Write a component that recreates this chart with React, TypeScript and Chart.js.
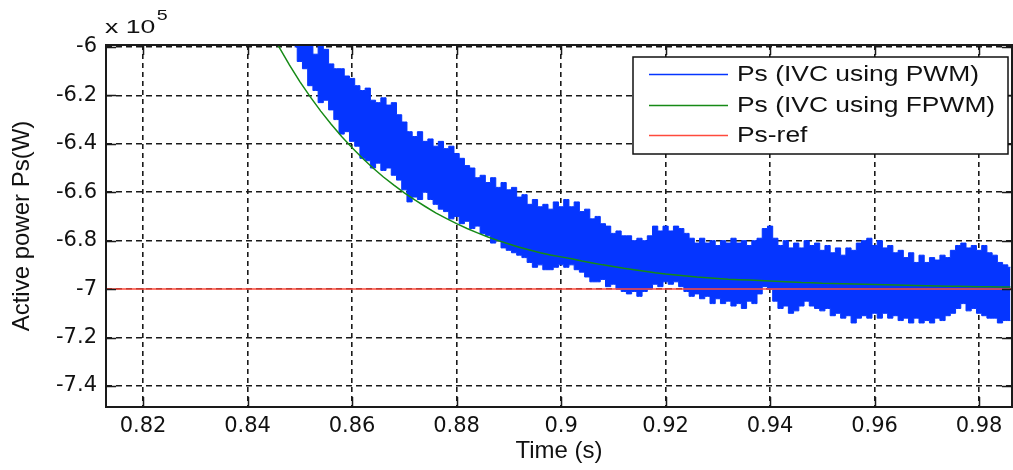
import React, { useEffect, useRef } from 'react';
import { Chart, registerables } from 'chart.js';

Chart.register(...registerables);

// ---- axes ----
const xRange = [0.8129, 0.9863];
const yRange = [-7.487, -5.992];
const xTicks = [0.82, 0.84, 0.86, 0.88, 0.9, 0.92, 0.94, 0.96, 0.98];
const yTicks = [-7.4, -7.2, -7.0, -6.8, -6.6, -6.4, -6.2, -6.0];
const xTitle = 'Time (s)';
const yTitle = 'Active power Ps(W)';
const exponentBase = 'x 10';
const exponentPower = '5';

// ---- series (values in units of 1e5 W) ----
const seriesLabels = ['Ps (IVC using PWM)', 'Ps (IVC using FPWM)', 'Ps-ref'];
const seriesColors = ['#0535ff', '#168a16', '#ff4a3c'];

const refTime = [0.8129, 0.9863];
const refValues = [-7, -7];

const fpwmTime = [
  0.844, 0.846, 0.848, 0.85, 0.852, 0.854, 0.856, 0.858, 0.86, 0.862,
  0.864, 0.866, 0.868, 0.87, 0.872, 0.874, 0.876, 0.878, 0.88, 0.882,
  0.884, 0.886, 0.888, 0.89, 0.892, 0.894, 0.896, 0.898, 0.9, 0.902,
  0.904, 0.906, 0.908, 0.91, 0.912, 0.914, 0.916, 0.918, 0.92, 0.922,
  0.924, 0.926, 0.928, 0.93, 0.932, 0.934, 0.936, 0.938, 0.94, 0.942,
  0.944, 0.946, 0.948, 0.95, 0.952, 0.954, 0.956, 0.958, 0.96, 0.962,
  0.964, 0.966, 0.968, 0.97, 0.972, 0.974, 0.976, 0.978, 0.98, 0.982,
  0.984, 0.986,
];
const fpwmValues = [
  -5.93, -6.0, -6.074, -6.143, -6.206, -6.265, -6.319, -6.37, -6.416, -6.46,
  -6.5, -6.537, -6.571, -6.603, -6.632, -6.659, -6.685, -6.708, -6.73, -6.75,
  -6.768, -6.785, -6.8, -6.814, -6.827, -6.839, -6.85, -6.859, -6.867, -6.875,
  -6.884, -6.892, -6.9, -6.907, -6.914, -6.92, -6.926, -6.933, -6.938, -6.942,
  -6.946, -6.95, -6.953, -6.956, -6.959, -6.961, -6.963, -6.965, -6.967, -6.969,
  -6.971, -6.973, -6.974, -6.976, -6.977, -6.978, -6.979, -6.98, -6.981, -6.982,
  -6.983, -6.984, -6.985, -6.986, -6.987, -6.988, -6.988, -6.989, -6.99, -6.99,
  -6.991, -6.991,
];

const pwmTime = [
  0.849, 0.85, 0.851, 0.852, 0.853, 0.854, 0.855, 0.856, 0.857, 0.858,
  0.859, 0.86, 0.861, 0.862, 0.863, 0.864, 0.865, 0.866, 0.867, 0.868,
  0.869, 0.87, 0.871, 0.872, 0.873, 0.874, 0.875, 0.876, 0.877, 0.878,
  0.879, 0.88, 0.881, 0.882, 0.883, 0.884, 0.885, 0.886, 0.887, 0.888,
  0.889, 0.89, 0.891, 0.892, 0.893, 0.894, 0.895, 0.896, 0.897, 0.898,
  0.899, 0.9, 0.901, 0.902, 0.903, 0.904, 0.905, 0.906, 0.907, 0.908,
  0.909, 0.91, 0.911, 0.912, 0.913, 0.914, 0.915, 0.916, 0.917, 0.918,
  0.919, 0.92, 0.921, 0.922, 0.923, 0.924, 0.925, 0.926, 0.927, 0.928,
  0.929, 0.93, 0.931, 0.932, 0.933, 0.934, 0.935, 0.936, 0.937, 0.938,
  0.939, 0.94, 0.941, 0.942, 0.943, 0.944, 0.945, 0.946, 0.947, 0.948,
  0.949, 0.95, 0.951, 0.952, 0.953, 0.954, 0.955, 0.956, 0.957, 0.958,
  0.959, 0.96, 0.961, 0.962, 0.963, 0.964, 0.965, 0.966, 0.967, 0.968,
  0.969, 0.97, 0.971, 0.972, 0.973, 0.974, 0.975, 0.976, 0.977, 0.978,
  0.979, 0.98, 0.981, 0.982, 0.983, 0.984, 0.985, 0.986,
];
const pwmUpper = [
  -5.98, -5.96, -5.97, -5.99, -6.03, -5.99, -6.01, -6.07, -6.09, -6.09,
  -6.12, -6.13, -6.16, -6.18, -6.17, -6.22, -6.23, -6.21, -6.24, -6.23,
  -6.28, -6.31, -6.35, -6.37, -6.35, -6.39, -6.38, -6.41, -6.39, -6.42,
  -6.41, -6.44, -6.46, -6.49, -6.5, -6.54, -6.53, -6.56, -6.54, -6.58,
  -6.56, -6.59, -6.58, -6.62, -6.61, -6.65, -6.63, -6.66, -6.65, -6.67,
  -6.64, -6.66, -6.63, -6.66, -6.64, -6.68, -6.67, -6.71, -6.7, -6.73,
  -6.74, -6.77, -6.76, -6.78, -6.78, -6.8, -6.79, -6.8, -6.78, -6.74,
  -6.76, -6.74, -6.76, -6.74, -6.75, -6.77, -6.79, -6.81, -6.79, -6.81,
  -6.8, -6.82, -6.8, -6.81, -6.79, -6.81, -6.8, -6.82, -6.8, -6.79,
  -6.75, -6.74, -6.79, -6.82, -6.8, -6.83, -6.81, -6.83, -6.8, -6.82,
  -6.81, -6.84, -6.82, -6.85, -6.83, -6.86, -6.83, -6.84, -6.81, -6.8,
  -6.79, -6.82, -6.8, -6.83, -6.82, -6.85, -6.84, -6.87, -6.85, -6.89,
  -6.86, -6.89, -6.87, -6.88, -6.86, -6.87, -6.84, -6.82, -6.81, -6.83,
  -6.82, -6.84, -6.82, -6.85, -6.86, -6.89, -6.9, -6.91,
];
const pwmLower = [
  -6.0, -6.06, -6.09, -6.16, -6.18, -6.23, -6.22, -6.26, -6.3, -6.36,
  -6.35, -6.39, -6.41, -6.46, -6.47, -6.5, -6.48, -6.51, -6.5, -6.53,
  -6.55, -6.59, -6.64, -6.62, -6.63, -6.6, -6.63, -6.65, -6.67, -6.68,
  -6.71, -6.7, -6.73, -6.72, -6.75, -6.74, -6.77, -6.78, -6.81, -6.8,
  -6.83, -6.84, -6.85, -6.86, -6.87, -6.89, -6.91, -6.9, -6.92, -6.92,
  -6.91, -6.9, -6.91, -6.9, -6.92, -6.93, -6.95, -6.97, -6.97, -6.96,
  -6.99, -6.98, -7.0, -7.01, -7.02, -7.01, -7.03, -7.01, -7.0, -6.98,
  -6.99, -6.97, -6.98, -6.97, -6.99, -7.01, -7.03, -7.02, -7.04, -7.03,
  -7.06, -7.04, -7.06, -7.05, -7.07, -7.06, -7.08, -7.05, -7.06, -7.02,
  -6.99, -7.0, -7.05, -7.08, -7.07, -7.1, -7.09, -7.07, -7.05, -7.07,
  -7.08, -7.09, -7.08, -7.11, -7.1, -7.12, -7.11, -7.14, -7.12, -7.11,
  -7.12, -7.1, -7.12, -7.1, -7.12, -7.11, -7.13, -7.12, -7.14, -7.12,
  -7.14, -7.13, -7.14, -7.12, -7.13, -7.11, -7.1, -7.08, -7.06, -7.09,
  -7.08, -7.1, -7.11, -7.12, -7.12, -7.14, -7.13, -7.13,
];

const fmt = (v: number) => String(Number(v.toFixed(2)));
const toPoints = (xs: number[], ys: number[]) => xs.map((x, i) => ({ x, y: ys[i] }));

const frameAndLegend = {
  id: 'frameAndLegend',
  afterDatasetsDraw(chart: any) {
    const { ctx, chartArea, scales } = chart;
    const { left, right, top, bottom } = chartArea;
    ctx.save();
    ctx.strokeStyle = '#1a1a1a';
    ctx.lineWidth = 1.5;
    ctx.setLineDash([]);
    ctx.beginPath();
    scales.x.ticks.forEach((t: any) => {
      const px = Math.round(scales.x.getPixelForValue(t.value)) + 0.5;
      ctx.moveTo(px, bottom);
      ctx.lineTo(px, bottom - 10);
      ctx.moveTo(px, top);
      ctx.lineTo(px, top + 10);
    });
    scales.y.ticks.forEach((t: any) => {
      const py = Math.round(scales.y.getPixelForValue(t.value)) + 0.5;
      ctx.moveTo(left, py);
      ctx.lineTo(left + 10, py);
      ctx.moveTo(right, py);
      ctx.lineTo(right - 10, py);
    });
    ctx.stroke();
    ctx.lineWidth = 2;
    ctx.strokeRect(left, top, right - left, bottom - top);
    ctx.restore();
  },
  afterDraw(chart: any) {
    const { ctx, chartArea } = chart;
    ctx.save();
    // exponent label
    ctx.fillStyle = '#111';
    ctx.textBaseline = 'alphabetic';
    ctx.font = '19px "Liberation Sans"';
    ctx.save();
    ctx.translate(chartArea.left - 1, 33);
    ctx.scale(1.4, 1);
    ctx.fillText(exponentBase, 0, 0);
    const w = ctx.measureText(exponentBase).width;
    ctx.font = '14px "Liberation Sans"';
    ctx.fillText(exponentPower, w + 1, -13);
    ctx.restore();

    // legend box
    const bx = 633, by = 57, bw = 375, bh = 97;
    ctx.fillStyle = '#ffffff';
    ctx.fillRect(bx, by, bw, bh);
    ctx.strokeStyle = '#111';
    ctx.lineWidth = 1.5;
    ctx.strokeRect(bx, by, bw, bh);
    const rows = [74, 105, 135];
    const order = [2, 1, 0];
    order.forEach((di, r) => {
      const ds = chart.data.datasets[di];
      const y = rows[r];
      ctx.strokeStyle = ds.borderColor;
      ctx.lineWidth = 1.5;
      ctx.beginPath();
      ctx.moveTo(649, y + 0.5);
      ctx.lineTo(728, y + 0.5);
      ctx.stroke();
      ctx.save();
      ctx.translate(737, y + 1);
      ctx.scale(1.2, 1);
      ctx.fillStyle = '#111';
      ctx.font = '22px "Liberation Sans"';
      ctx.textBaseline = 'middle';
      ctx.fillText(ds.label, 0, 0);
      ctx.restore();
    });
    ctx.restore();
  },
};

export default function App() {
  const ref = useRef<HTMLCanvasElement>(null);
  useEffect(() => {
    if (!ref.current) return;
    const chart = new Chart(ref.current, {
      type: 'line',
      data: {
        datasets: [
          {
            label: seriesLabels[2],
            data: toPoints(refTime, refValues),
            borderColor: seriesColors[2],
            borderWidth: 1.5,
            pointRadius: 0,
            fill: false,
          },
          {
            label: seriesLabels[1],
            data: toPoints(fpwmTime, fpwmValues),
            borderColor: seriesColors[1],
            borderWidth: 1.5,
            pointRadius: 0,
            fill: false,
            tension: 0,
          },
          {
            label: seriesLabels[0],
            data: toPoints(pwmTime, pwmUpper),
            borderColor: seriesColors[0],
            backgroundColor: seriesColors[0],
            borderWidth: 1,
            pointRadius: 0,
            stepped: 'middle',
            fill: '+1',
          },
          {
            label: '',
            data: toPoints(pwmTime, pwmLower),
            borderColor: seriesColors[0],
            borderWidth: 1,
            pointRadius: 0,
            stepped: 'middle',
            fill: false,
          },
        ],
      },
      options: {
        responsive: false,
        animation: false,
        events: [],
        layout: { padding: { top: 45, right: 1, left: 0, bottom: 0 } },
        plugins: { legend: { display: false }, tooltip: { enabled: false } },
        scales: {
          x: {
            type: 'linear',
            min: xRange[0],
            max: xRange[1],
            afterBuildTicks: (s: any) => {
              s.ticks = xTicks.map((v) => ({ value: v }));
            },
            afterFit: (s: any) => {
              s.height = 63;
            },
            ticks: {
              callback: (v: any) => fmt(Number(v)),
              font: { family: 'DejaVu Sans', size: 21 },
              color: '#111',
              padding: 7,
              maxRotation: 0,
              autoSkip: false,
            },
            grid: { color: '#1a1a1a', lineWidth: 1.6, drawTicks: false },
            border: { display: false, dash: [5, 4] },
            title: {
              display: true,
              text: xTitle,
              color: '#111',
              font: { family: 'Liberation Sans', size: 24 },
              padding: { top: 0, bottom: 4 },
            },
          },
          y: {
            type: 'linear',
            min: yRange[0],
            max: yRange[1],
            afterBuildTicks: (s: any) => {
              s.ticks = yTicks.map((v) => ({ value: v }));
            },
            afterFit: (s: any) => {
              s.width = 106;
            },
            ticks: {
              callback: (v: any) => fmt(Number(v)),
              font: { family: 'DejaVu Sans', size: 21 },
              color: '#111',
              padding: 9,
              autoSkip: false,
            },
            grid: { color: '#1a1a1a', lineWidth: 1.6, drawTicks: false },
            border: { display: false, dash: [6, 4] },
            title: {
              display: true,
              text: yTitle,
              color: '#111',
              font: { family: 'Liberation Sans', size: 24 },
              padding: { top: 8, bottom: 0 },
            },
          },
        },
      },
      plugins: [frameAndLegend],
    });
    return () => chart.destroy();
  }, []);

  return (
    <div style={{ position: 'fixed', left: 0, top: 0, width: 1013, height: 470, background: '#fff' }}>
      <canvas ref={ref} width={1013} height={470} style={{ width: 1013, height: 470 }} />
    </div>
  );
}
